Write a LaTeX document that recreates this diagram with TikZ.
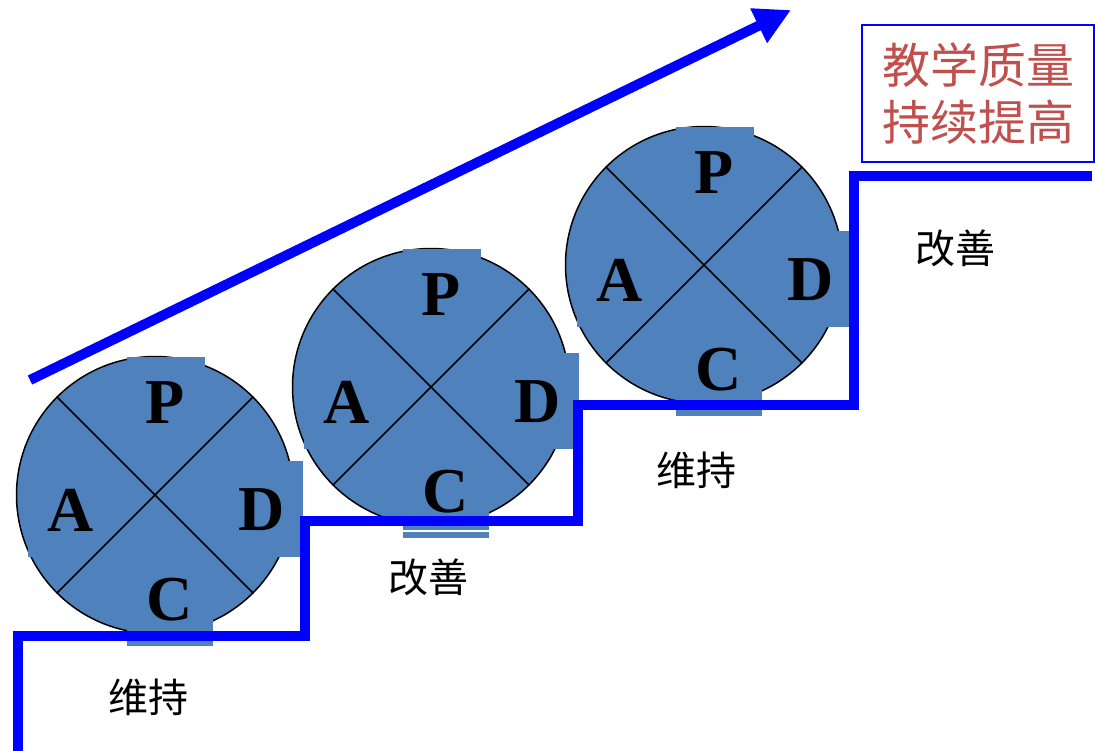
\documentclass[tikz,border=0pt]{standalone}
\usepackage{fontspec}
\setmainfont{Liberation Serif}
\newfontfamily\cjk{Noto Sans CJK SC}
\usetikzlibrary{arrows.meta}
\definecolor{pdcablue}{RGB}{79,129,189}
\definecolor{titlered}{RGB}{192,80,77}
\begin{document}
\begin{tikzpicture}[x=1pt,y=-1pt,
  wheel/.style={draw,circle,fill=pdcablue,line width=1.5pt,minimum size=277pt,inner sep=0pt},
  letter/.style={font=\fontsize{64}{64}\selectfont\bfseries,inner sep=0pt},
  stairline/.style={line width=10pt,blue},
  trend/.style={line width=10pt,blue,-{Triangle[length=36pt,width=36pt]}},
  steptext/.style={font=\cjk\fontsize{40}{40}\selectfont,inner sep=0pt},
  titlebox/.style={draw=blue,line width=2pt,fill=white,minimum width=232pt,minimum height=137pt,
    text=titlered,align=center,font=\cjk\fontsize{48}{57}\selectfont}]
\useasboundingbox (0,0) rectangle (1095,750);
\foreach \i/\cx/\cy in {1/155/495,2/431/387,3/704/265}{
  \node[wheel] (w\i) at (\cx,\cy) {};
  \fill[pdcablue] (\cx-28,\cy-138) rectangle (\cx+50,\cy-60);
  \fill[pdcablue] (\cx-127,\cy-34) rectangle (\cx-45,\cy+62);
  \fill[pdcablue] (\cx+70,\cy-34) rectangle (\cx+148,\cy+62);
  \fill[pdcablue] (\cx-28,\cy+72) rectangle (\cx+58,\cy+151);
  \draw[line width=1.5pt] (w\i.45) -- (w\i.225);
  \draw[line width=1.5pt] (w\i.135) -- (w\i.315);
  \node[letter] (p\i) at (\cx+10,\cy-92) {P};
  \node[letter] (a\i) at (\cx-84,\cy+15) {A};
  \node[letter] (d\i) at (\cx+107,\cy+15) {D};
  \node[letter] (c\i) at (\cx+15,\cy+105) {C};
}
\draw[white,line width=1.5pt] (403,531) -- (489,531);
\draw[stairline] (18,760) |- (305,636) |- (578,521) |- (854,405) |- (1092,176);
\coordinate (tail) at (30,380);
\coordinate (tip) at (791,10);
\draw[trend] (tail) -- (tip);
\node[steptext] (keep1) at (148,697) {维持};
\node[steptext] (better1) at (428,577) {改善};
\node[steptext] (keep2) at (696,470) {维持};
\node[steptext] (better2) at (955,248) {改善};
\node[titlebox] (title) at (978,93.5) {教学质量\\持续提高};
\end{tikzpicture}
\end{document}
